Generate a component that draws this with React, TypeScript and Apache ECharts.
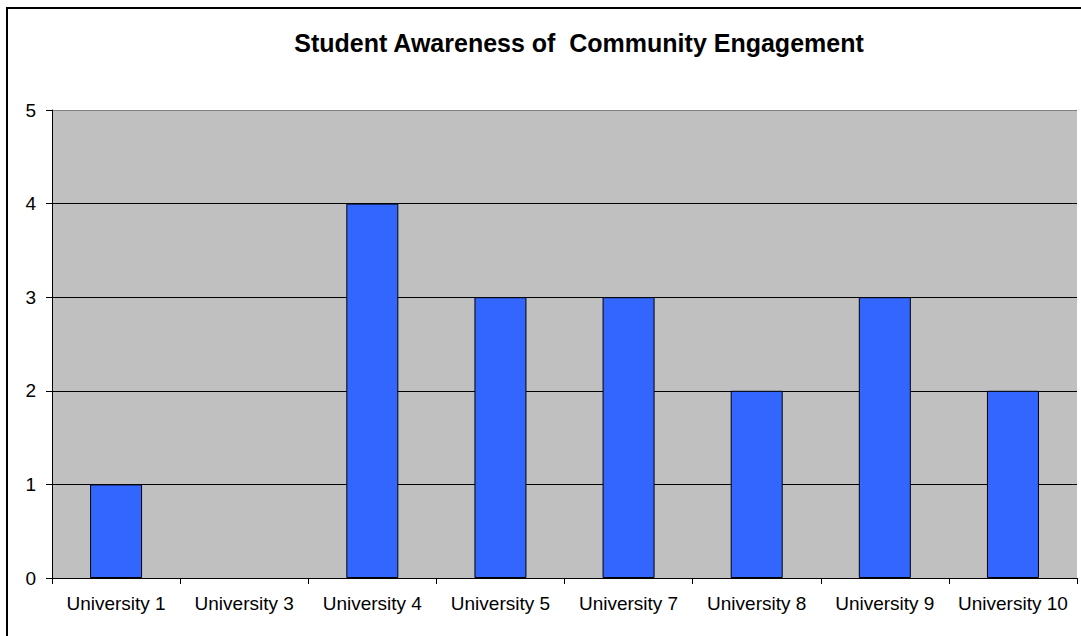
import React, { useEffect, useRef } from "react";
import * as echarts from "echarts";

const categories = [
  "University 1",
  "University 3",
  "University 4",
  "University 5",
  "University 7",
  "University 8",
  "University 9",
  "University 10",
];
const values = [1, 0, 4, 3, 3, 2, 3, 2];
const titleText = "Student Awareness of  Community Engagement";

export default function App() {
  const ref = useRef<HTMLDivElement>(null);
  useEffect(() => {
    if (!ref.current) return;
    const chart = echarts.init(ref.current, null, { renderer: "svg" });
    const font = "Arial, 'Liberation Sans', sans-serif";
    chart.setOption({
      animation: false,
      backgroundColor: "#ffffff",
      title: {
        text: titleText,
        left: 574,
        top: 25,
        textAlign: "center",
        textStyle: { fontFamily: font, fontWeight: "bold", fontSize: 25, color: "#000" },
      },
      graphic: [
        {
          type: "rect",
          shape: { x: 7, y: 8, width: 1200, height: 800 },
          style: { fill: "none", stroke: "#000", lineWidth: 2 },
          z: 100,
        },
      ],
      grid: {
        left: 52,
        right: 4,
        top: 110,
        bottom: 58,
        show: true,
        backgroundColor: "#C0C0C0",
        borderWidth: 0,
      },
      xAxis: {
        type: "category",
        data: categories,
        boundaryGap: true,
        axisLine: { show: true, lineStyle: { color: "#000", width: 1 } },
        axisTick: { show: true, length: 6, lineStyle: { color: "#000" } },
        axisLabel: { fontFamily: font, fontSize: 19, color: "#000", margin: 16, interval: 0 },
        splitLine: { show: false },
      },
      yAxis: {
        type: "value",
        min: 0,
        max: 5,
        interval: 1,
        axisLine: { show: true, lineStyle: { color: "#000", width: 1 } },
        axisTick: { show: true, length: 6, lineStyle: { color: "#000" } },
        axisLabel: { fontFamily: font, fontSize: 19, color: "#000", margin: 16 },
        splitLine: {
          show: true,
          lineStyle: { color: ["#000", "#000", "#000", "#000", "#000", "#808080"], width: 1 },
        },
      },
      series: [
        {
          type: "bar",
          data: values.map((v) =>
            v === 0 ? { value: v, itemStyle: { borderWidth: 0 } } : v
          ),
          barWidth: 52,
          itemStyle: { color: "#3366FF", borderColor: "#000", borderWidth: 1 },
        },
      ],
    });
    return () => chart.dispose();
  }, []);
  return (
    <div
      ref={ref}
      style={{ position: "absolute", left: 0, top: 0, width: 1081, height: 636 }}
    />
  );
}
